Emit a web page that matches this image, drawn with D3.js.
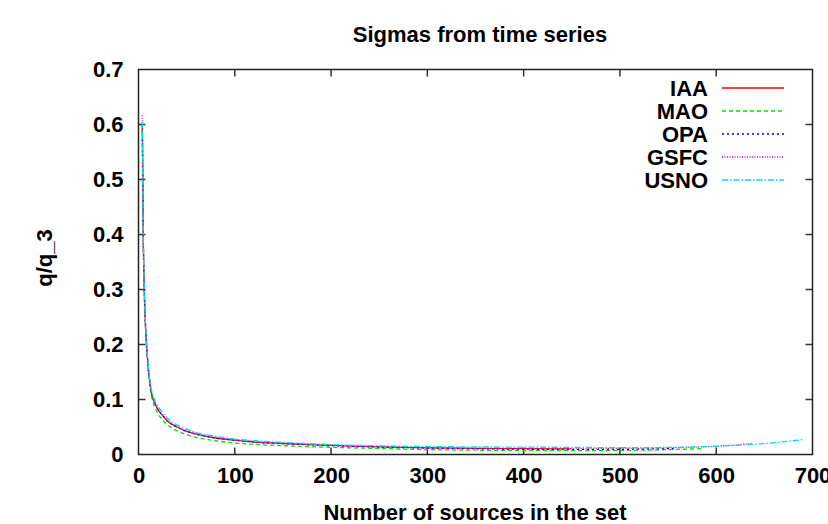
<!DOCTYPE html>
<html><head><meta charset="utf-8">
<script src="https://cdn.jsdelivr.net/npm/d3@7"></script>
<style>
body{margin:0;background:#fff;}
text{font-family:"Liberation Sans",Arial,sans-serif;font-weight:bold;fill:#000;}
</style></head>
<body>
<svg id="c" width="828" height="524"></svg>
<script>
// ---- data ----
const seriesNames = ["IAA","MAO","OPA","GSFC","USNO"];
const xTicks = [0,100,200,300,400,500,600,700];
const yTicks = [0,0.1,0.2,0.3,0.4,0.5,0.6,0.7];

const iaaN   = [4,5,6,7,8,10,12,14,17,20,25,30,40,50,60,80,100,125,150,200,250,300,350,400,449];
const iaaV   = [0.600,0.390,0.300,0.245,0.210,0.160,0.128,0.108,0.093,0.082,0.071,0.061,0.050,0.042,0.037,0.030,0.026,0.022,0.0200,0.0165,0.0140,0.0122,0.0112,0.0106,0.0102];

const maoN   = [4,5,6,7,8,10,12,14,17,20,25,30,40,50,60,80,100,125,150,200,250,300,350,400,450,500,550,587];
const maoV   = [0.590,0.385,0.295,0.240,0.205,0.155,0.122,0.102,0.086,0.075,0.063,0.054,0.043,0.036,0.031,0.025,0.021,0.0180,0.0160,0.0130,0.0110,0.0088,0.0078,0.0072,0.0070,0.0074,0.0088,0.0108];

const opaN   = [4,5,6,7,8,10,12,14,17,20,25,30,40,50,60,80,100,125,150,200,250,300,350,400,450,500,556];
const opaV   = [0.600,0.392,0.300,0.246,0.210,0.160,0.128,0.108,0.093,0.082,0.071,0.061,0.050,0.042,0.037,0.030,0.026,0.022,0.0198,0.0162,0.0136,0.0118,0.0105,0.0097,0.0092,0.0094,0.0108];

const gsfcN  = [3.8,5,6,7,8,10,12,14,17,20,25,30,40,50,60,80,100,125,150,200,250,300,350,400,450,500,550,600,638];
const gsfcV  = [0.617,0.395,0.302,0.247,0.211,0.161,0.129,0.109,0.094,0.083,0.072,0.062,0.051,0.043,0.038,0.031,0.027,0.023,0.0205,0.0168,0.0142,0.0125,0.0115,0.0110,0.0108,0.0110,0.0122,0.0150,0.0200];

const usnoN  = [4,5,6,7,8,10,12,14,17,20,25,30,40,50,60,80,100,125,150,200,250,300,350,400,450,500,550,600,650,691];
const usnoV  = [0.605,0.398,0.305,0.250,0.215,0.165,0.133,0.113,0.098,0.088,0.076,0.066,0.054,0.046,0.040,0.033,0.028,0.0245,0.0220,0.0180,0.0158,0.0145,0.0138,0.0134,0.0130,0.0124,0.0128,0.0150,0.0200,0.0272];

const seriesN = [iaaN, maoN, opaN, gsfcN, usnoN];
const seriesV = [iaaV, maoV, opaV, gsfcV, usnoV];
const colors  = ["#ff0000","#00e000","#0000ff","#e000e0","#00e0e0"];
const dashes  = [null,"4,3","2,3","1,1.5","6,2,1.5,2"];

// ---- layout ----
const svg = d3.select("#c");
const L=138.5, R=812.5, T=69.5, B=454.5;
const x = d3.scaleLinear().domain([0,700]).range([L,R]);
const y = d3.scaleLinear().domain([0,0.7]).range([B,T]);
const FS = "22px";

const tickLen = 7;
// ticks (inward, mirrored)
const axG = svg.append("g").attr("stroke","#333").attr("stroke-width",1.5);
xTicks.forEach(t=>{
  if(t!==0 && t!==700){
    axG.append("line").attr("x1",x(t)).attr("x2",x(t)).attr("y1",B).attr("y2",B-tickLen);
    axG.append("line").attr("x1",x(t)).attr("x2",x(t)).attr("y1",T).attr("y2",T+tickLen);
  }
});
yTicks.forEach(t=>{
  if(t!==0 && t!==0.7){
    axG.append("line").attr("x1",L).attr("x2",L+tickLen).attr("y1",y(t)).attr("y2",y(t));
    axG.append("line").attr("x1",R).attr("x2",R-tickLen).attr("y1",y(t)).attr("y2",y(t));
  }
});

// axes via d3 (labels only)
const xAxis = d3.axisBottom(x).tickValues(xTicks).tickSize(0).tickPadding(13).tickFormat(d3.format("d"));
const gx = svg.append("g").attr("transform",`translate(0,${B})`).call(xAxis);
gx.select(".domain").remove();
gx.selectAll("text").style("font-size",FS).style("font-family","Liberation Sans, Arial, sans-serif").style("font-weight","bold").attr("fill","#000");

const yAxis = d3.axisLeft(y).tickValues(yTicks).tickSize(0).tickPadding(15).tickFormat(d=> d===0?"0":d3.format(".1f")(d));
const gy = svg.append("g").attr("transform",`translate(${L},0)`).call(yAxis);
gy.select(".domain").remove();
gy.selectAll("text").style("font-size",FS).style("font-family","Liberation Sans, Arial, sans-serif").style("font-weight","bold").attr("fill","#000");

// clip
svg.append("clipPath").attr("id","clip").append("rect").attr("x",L).attr("y",T).attr("width",R-L).attr("height",B-T);

// series lines
const line = d3.line().x(d=>x(d[0])).y(d=>y(d[1])).curve(d3.curveMonotoneX);
seriesNames.forEach((name,i)=>{
  const pts = seriesN[i].map((n,j)=>[n, seriesV[i][j]]);
  svg.append("path").datum(pts)
    .attr("d",line)
    .attr("fill","none")
    .attr("stroke",colors[i])
    .attr("stroke-width",1.3)
    .attr("stroke-dasharray",dashes[i])
    .attr("clip-path","url(#clip)");
});

// frame
svg.append("rect").attr("x",L).attr("y",T).attr("width",R-L).attr("height",B-T)
  .attr("fill","none").attr("stroke","#222").attr("stroke-width",1.5);

// legend
const legY0 = 88, legDy = 23;
seriesNames.forEach((name,i)=>{
  const yy = legY0 + i*legDy;
  svg.append("text").attr("x",708).attr("y",yy).attr("dy","0.36em")
    .attr("text-anchor","end").style("font-size",FS).text(name);
  svg.append("line").attr("x1",722).attr("x2",784).attr("y1",yy).attr("y2",yy)
    .attr("stroke",colors[i]).attr("stroke-width",1.3).attr("stroke-dasharray",dashes[i]);
});

// titles
svg.append("text").attr("x",480).attr("y",42).attr("text-anchor","middle").style("font-size",FS).text("Sigmas from time series");
svg.append("text").attr("x",475).attr("y",520).attr("text-anchor","middle").style("font-size",FS).text("Number of sources in the set");
svg.append("text").attr("transform","translate(52,258) rotate(-90)").attr("text-anchor","middle").style("font-size",FS).text("q/q_3");
</script>
</body></html>
